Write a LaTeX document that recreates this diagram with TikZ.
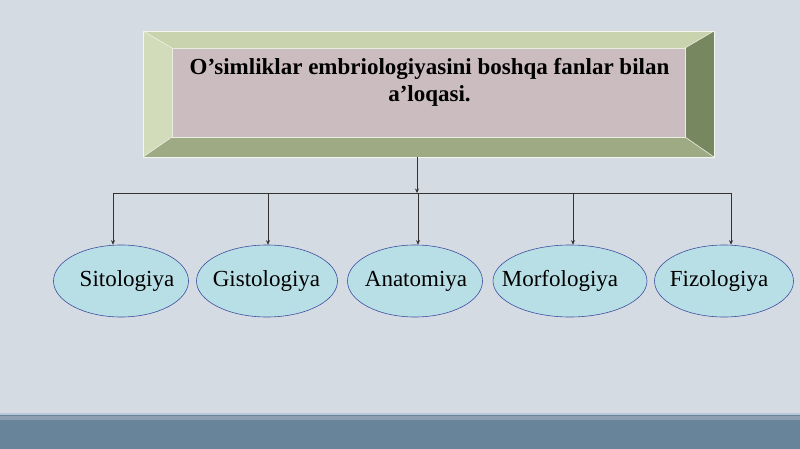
\documentclass[tikz,border=0pt]{standalone}
\usepackage{fontspec}
\setmainfont{Liberation Serif}
\usetikzlibrary{shapes.geometric,arrows.meta}
\definecolor{bgc}{HTML}{D5DBE2}
\definecolor{facec}{HTML}{CBBCC0}
\definecolor{bevT}{HTML}{C9D3AE}
\definecolor{bevL}{HTML}{D2DBBA}
\definecolor{bevB}{HTML}{9DAA84}
\definecolor{bevR}{HTML}{77875F}
\definecolor{ellf}{HTML}{B9DFE6}
\definecolor{elld}{HTML}{3F4FA0}
\definecolor{linec}{HTML}{333333}
\definecolor{bandA}{HTML}{B9C7D6}
\definecolor{bandB}{HTML}{8C9FB1}
\definecolor{bandC}{HTML}{67849A}
\tikzset{
  topic/.style={ellipse, draw=elld, line width=0.6pt, fill=ellf, minimum width=135pt, minimum height=72pt, inner sep=0pt},
  lbl/.style={anchor=base, font=\fontsize{23}{27}\selectfont, text=black, inner sep=0pt},
  conn/.style={draw=linec, line width=0.8pt, -{Stealth[length=4.5pt,width=4pt]}},
  bar/.style={draw=linec, line width=0.8pt}
}
\begin{document}
\begin{tikzpicture}[x=1pt,y=-1pt]
\useasboundingbox (0,0) rectangle (800,449);
\fill[bgc] (0,0) rectangle (800,449);
% bottom band
\fill[bandC] (0,414) rectangle (800,449);
\fill[bandB] (0,415.5) rectangle (800,420);
\fill[bandA] (0,412.5) rectangle (800,415);
% bevel box
\fill[bevT] (143,31) -- (714,31) -- (685,48) -- (172,48) -- cycle;
\fill[bevL] (143,31) -- (172,48) -- (172,137) -- (143,157) -- cycle;
\fill[bevB] (143,157) -- (172,137) -- (685,137) -- (714,157) -- cycle;
\fill[bevR] (714,31) -- (714,157) -- (685,137) -- (685,48) -- cycle;
\draw[white!80!bevT, line width=0.8pt] (143,31) -- (714,31) -- (714,157) -- (143,157) -- cycle;
\draw[white!70!bevT, line width=0.6pt] (143,31) -- (172,48) (714,157) -- (685,137) (714,31) -- (685,48) (143,157) -- (172,137);
\node[rectangle, fill=facec, draw=white!60!bevT, line width=0.8pt, minimum width=513pt, minimum height=89pt, anchor=north west, inner sep=0pt] (main) at (172,48) {};
\node[font=\bfseries\fontsize{23}{27}\selectfont, align=center, text=black, inner sep=0pt, anchor=base] (title) at (429.5,102) {O’simliklar embriologiyasini boshqa fanlar bilan\\a’loqasi.};
% ellipses
\node[topic] (e1) at (121,281) {};
\node[topic, minimum width=141pt] (e2) at (267,281) {};
\node[topic] (e3) at (415,281) {};
\node[topic, minimum width=154pt] (e4) at (570,281) {};
\node[topic, minimum width=139pt] (e5) at (724,281) {};
\node[lbl] (t1) at (127,286) {Sitologiya};
\node[lbl] (t2) at (266.5,286) {Gistologiya};
\node[lbl] (t3) at (416,286) {Anatomiya};
\node[lbl] (t4) at (560,286) {Morfologiya};
\node[lbl] (t5) at (719,286) {Fizologiya};
% connectors
\coordinate (trunk) at (417,157);
\coordinate (j) at (417,193);
\coordinate (b1) at (113,193);
\coordinate (b2) at (268,193);
\coordinate (b3) at (418,193);
\coordinate (b4) at (573,193);
\coordinate (b5) at (731,193);
\draw[bar] (b1) -- (b5);
\draw[conn] (trunk) -- (j);
\draw[conn] (b1) -- (b1 |- e1.north);
\draw[conn] (b2) -- (b2 |- e2.north);
\draw[conn] (b3) -- (b3 |- e3.north);
\draw[conn] (b4) -- (b4 |- e4.north);
\draw[conn] (b5) -- (b5 |- e5.north);
\end{tikzpicture}
\end{document}
